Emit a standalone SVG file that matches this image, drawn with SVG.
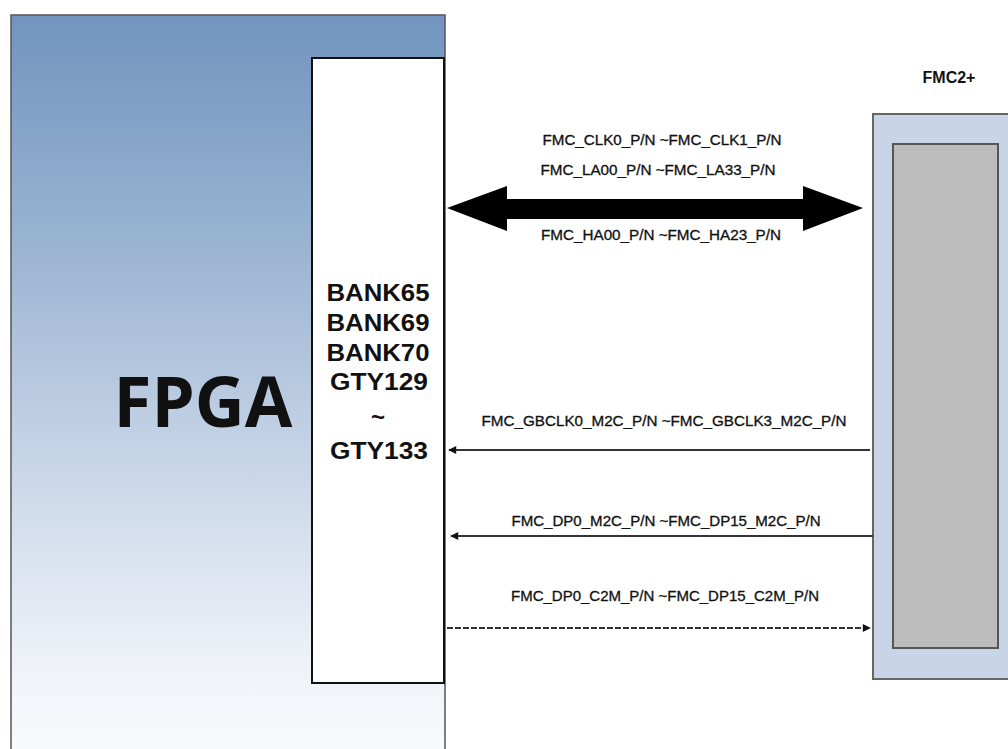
<svg xmlns="http://www.w3.org/2000/svg" width="1008" height="749" viewBox="0 0 1008 749">
<defs>
<linearGradient id="fpgaGrad" x1="0" y1="0" x2="0" y2="1">
<stop offset="0" stop-color="#7294bf"/>
<stop offset="0.3" stop-color="#9ab3d1"/>
<stop offset="0.6" stop-color="#c9d6e8"/>
<stop offset="0.85" stop-color="#eef2f8"/>
<stop offset="1" stop-color="#fbfcfd"/>
</linearGradient>
<marker id="ah" viewBox="0 0 10 10" refX="9" refY="5" markerWidth="10" markerHeight="8" markerUnits="userSpaceOnUse" orient="auto">
<path d="M0,0 L10,5 L0,10 Z" fill="#111"/>
</marker>
<style>
.sig{font-family:"Liberation Sans",Arial,sans-serif;font-size:14px;fill:#111;stroke:#111;stroke-width:0.3px;text-anchor:middle}
.bank{font-family:"Liberation Sans",Arial,sans-serif;font-size:24px;font-weight:bold;fill:#111;text-anchor:middle}
.line{stroke:#333;stroke-width:2;fill:none}
</style>
</defs>
<rect width="1008" height="749" fill="#ffffff"/>
<g id="fpga">
<rect x="11" y="15" width="434" height="760" fill="url(#fpgaGrad)" stroke="#555" stroke-width="1.5"/>
<text x="203" y="427" font-family="'Open Sans','DejaVu Sans',sans-serif" font-weight="bold" font-size="69" fill="#111" text-anchor="middle">FPGA</text>
</g>
<g id="banks">
<rect x="312" y="58" width="132" height="625" fill="#ffffff" stroke="#111" stroke-width="2"/>
<text class="bank" x="378" y="301" textLength="103" lengthAdjust="spacingAndGlyphs">BANK65</text>
<text class="bank" x="378" y="331" textLength="103" lengthAdjust="spacingAndGlyphs">BANK69</text>
<text class="bank" x="378" y="361" textLength="103" lengthAdjust="spacingAndGlyphs">BANK70</text>
<text class="bank" x="379" y="390" textLength="98" lengthAdjust="spacingAndGlyphs">GTY129</text>
<text class="bank" x="378" y="425">~</text>
<text class="bank" x="379" y="459" textLength="98" lengthAdjust="spacingAndGlyphs">GTY133</text>
</g>
<g id="fmc">
<text x="949" y="83" font-family="'Liberation Sans',Arial,sans-serif" font-weight="bold" font-size="16" fill="#111" text-anchor="middle">FMC2+</text>
<rect x="873" y="114" width="150" height="565" fill="#c8d5e6" stroke="#666" stroke-width="2"/>
<rect x="893" y="144" width="105" height="504" fill="#bdbdbd" stroke="#555" stroke-width="2"/>
</g>
<g id="connectors">
<path d="M447,208 L507,186 L507,199 L803,199 L803,186 L863,208 L803,231 L803,219 L507,219 L507,231 Z" fill="#000"/>
<line class="line" x1="870" y1="450" x2="449" y2="450" marker-end="url(#ah)"/>
<line class="line" x1="873" y1="536" x2="451" y2="536" marker-end="url(#ah)"/>
<line class="line" x1="447" y1="628" x2="870" y2="628" stroke-dasharray="6,2" marker-end="url(#ah)"/>
</g>
<g id="labels">
<text class="sig" x="662" y="145" textLength="239" lengthAdjust="spacingAndGlyphs">FMC_CLK0_P/N ~FMC_CLK1_P/N</text>
<text class="sig" x="658" y="175" textLength="235" lengthAdjust="spacingAndGlyphs">FMC_LA00_P/N ~FMC_LA33_P/N</text>
<text class="sig" x="661" y="240" textLength="240" lengthAdjust="spacingAndGlyphs">FMC_HA00_P/N ~FMC_HA23_P/N</text>
<text class="sig" x="664" y="426" textLength="365" lengthAdjust="spacingAndGlyphs">FMC_GBCLK0_M2C_P/N ~FMC_GBCLK3_M2C_P/N</text>
<text class="sig" x="666" y="526" textLength="309" lengthAdjust="spacingAndGlyphs">FMC_DP0_M2C_P/N ~FMC_DP15_M2C_P/N</text>
<text class="sig" x="665" y="601" textLength="308" lengthAdjust="spacingAndGlyphs">FMC_DP0_C2M_P/N ~FMC_DP15_C2M_P/N</text>
</g>
</svg>
